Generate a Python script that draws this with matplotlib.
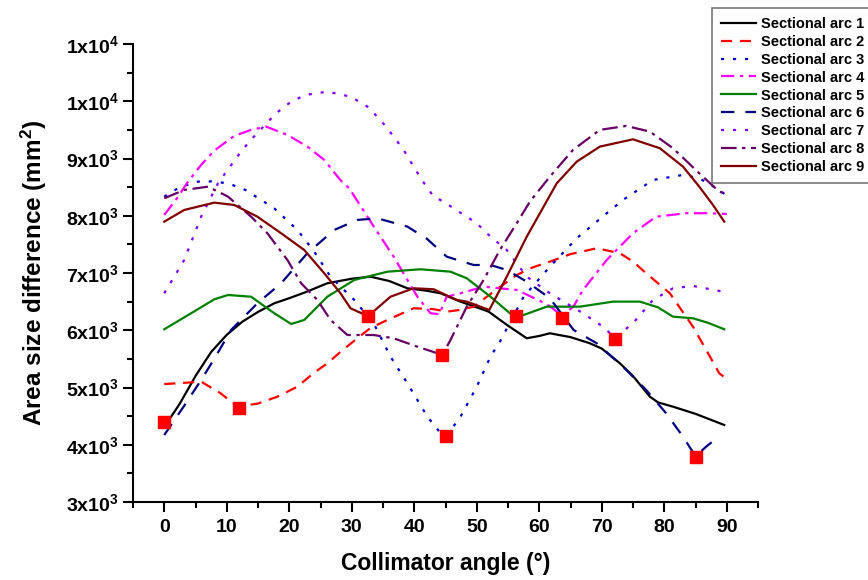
import numpy as np
import matplotlib.pyplot as plt
from matplotlib.ticker import MultipleLocator, FixedLocator, FuncFormatter

plt.rcParams['font.family'] = 'Liberation Sans'
plt.rcParams['font.weight'] = 'bold'
plt.rcParams['mathtext.fontset'] = 'custom'
plt.rcParams['mathtext.rm'] = 'Liberation Sans:bold'
plt.rcParams['mathtext.it'] = 'Liberation Sans:bold'
plt.rcParams['mathtext.bf'] = 'Liberation Sans:bold'

# Data (collimator angle in deg, area size difference in mm^2)
arc1_x = [0, 1.1, 2.5, 5, 7.5, 10, 12.5, 15, 17.6, 20, 22.5, 26.1, 30, 33, 36, 38.9, 42, 44.2, 47.4, 50, 51.9, 55, 58, 60, 61.7, 65, 68.1, 70, 72.9, 75, 77.7, 79, 81.4, 85, 89.6]
arc1_y = [4330, 4490, 4720, 5200, 5620, 5920, 6150, 6320, 6471, 6560, 6660, 6821, 6900, 6936, 6860, 6733, 6690, 6646, 6500, 6400, 6325, 6080, 5860, 5900, 5947, 5880, 5772, 5680, 5423, 5200, 4840, 4740, 4665, 4540, 4345]

arc2_x = [0, 3, 5.9, 9, 11.7, 15, 18.1, 21.3, 24, 26.1, 28.5, 30.9, 33, 35.7, 39.9, 43, 45.2, 47, 49.5, 53, 56.4, 59, 61.7, 65, 69.2, 72.9, 75, 77.1, 80.9, 84.6, 87, 88.8, 90]
arc2_y = [5060, 5080, 5102, 4900, 4665, 4720, 4840, 5014, 5260, 5423, 5650, 5860, 6040, 6180, 6384, 6370, 6325, 6350, 6411, 6700, 6966, 7100, 7198, 7330, 7432, 7345, 7200, 6996, 6646, 6062, 5600, 5248, 5150]

arc3_x = [0, 2.5, 5.4, 7.5, 10.2, 13, 17.6, 21.3, 24, 26.6, 30.4, 33.5, 36.2, 38.9, 42.1, 44.2, 45.2, 47.4, 50, 52.2, 53.7, 57.5, 61.7, 66, 70.8, 73.4, 78.2, 83, 85.6, 88.8, 90]
arc3_y = [8334, 8500, 8596, 8600, 8567, 8450, 8130, 7752, 7373, 6936, 6529, 6122, 5539, 5074, 4490, 4205, 4160, 4490, 5014, 5539, 5800, 6586, 7110, 7607, 8044, 8276, 8625, 8713, 8655, 8451, 8350]

arc4_x = [0, 2, 3.8, 6, 8, 11.2, 13.9, 16.3, 19.7, 22.9, 25.6, 28.2, 29.6, 32.5, 36.7, 40.5, 42.6, 44, 45.2, 47.4, 51.1, 56.4, 60, 61.7, 63.7, 65.5, 67, 70.8, 75, 78.7, 83.5, 87.2, 90]
arc4_y = [8014, 8300, 8596, 8900, 9138, 9394, 9500, 9557, 9412, 9208, 8975, 8620, 8480, 7984, 7285, 6586, 6297, 6280, 6586, 6646, 6761, 6704, 6520, 6420, 6250, 6420, 6704, 7228, 7694, 7984, 8044, 8044, 8030]

arc5_x = [0, 4.3, 8, 10.2, 13.9, 17.6, 20.3, 22.4, 26.1, 30.4, 35.7, 41, 45.8, 48.4, 52.2, 55.3, 56.5, 57.5, 61.2, 66.5, 71.8, 76.1, 79, 81.4, 84.6, 87, 89.6]
arc5_y = [6017, 6297, 6540, 6616, 6586, 6297, 6110, 6180, 6586, 6878, 7023, 7065, 7023, 6908, 6586, 6297, 6255, 6267, 6412, 6412, 6500, 6500, 6400, 6237, 6209, 6130, 6017]

arc6_x = [0, 3, 5.9, 8, 10.7, 14.9, 18.7, 22.9, 27.2, 30.9, 34.1, 38.9, 42, 45.2, 49.5, 52.2, 54.8, 58, 61.7, 65.5, 69.2, 73.4, 77.1, 80.3, 83, 85, 86.7, 88]
arc6_y = [4170, 4650, 5131, 5500, 6005, 6471, 6821, 7345, 7752, 7927, 7956, 7810, 7600, 7285, 7140, 7140, 7053, 6849, 6559, 6005, 5772, 5364, 4957, 4550, 4141, 3800, 3966, 4080]

arc7_x = [0, 3.2, 5.9, 8.6, 11.8, 13.6, 17.9, 20.3, 22.6, 26.1, 29.8, 32.5, 34.6, 36.5, 38.3, 39.9, 41.3, 43.1, 44.7, 46.3, 50, 52.2, 54.8, 58, 61.7, 67, 70.2, 72.1, 75, 78.2, 81.4, 84.6, 89.4]
arc7_y = [6646, 7228, 7984, 8567, 9050, 9295, 9791, 9993, 10110, 10168, 10081, 9906, 9674, 9412, 9150, 8858, 8613, 8334, 8246, 8130, 7869, 7635, 7402, 6936, 6646, 6297, 6062, 5870, 6122, 6529, 6733, 6774, 6674]

arc8_x = [0, 3.2, 7, 10.2, 13.9, 16.5, 19.7, 21.9, 24.5, 26.6, 29.3, 33.5, 36.7, 40.5, 44.5, 45.8, 48.4, 51.1, 53.7, 56.4, 58.5, 61.7, 65.4, 69.7, 73.9, 77.7, 81.4, 85.6, 88.8, 90]
arc8_y = [8305, 8451, 8508, 8334, 7984, 7694, 7228, 6821, 6529, 6180, 5917, 5917, 5860, 5713, 5570, 5830, 6412, 6878, 7402, 7869, 8246, 8683, 9150, 9500, 9569, 9470, 9179, 8742, 8421, 8380]

arc9_x = [0, 3.2, 8, 11.2, 14.9, 18.7, 22.4, 25.6, 28.2, 29.8, 31.7, 32.6, 33.5, 36.2, 39.9, 43.1, 46.8, 48.4, 52, 54.8, 58, 60.7, 62.8, 66, 69.7, 75, 79.3, 83, 85.6, 87.8, 89.6]
arc9_y = [7897, 8101, 8229, 8188, 7984, 7694, 7402, 6995, 6646, 6384, 6290, 6260, 6330, 6586, 6733, 6716, 6529, 6500, 6354, 6936, 7635, 8159, 8567, 8945, 9208, 9335, 9179, 8858, 8509, 8188, 7897]

# red squares (minimum of each arc)
min_x = [0, 12, 32.6, 44.5, 45.1, 56.3, 63.7, 72.1, 85]
min_y = [4400, 4650, 6255, 5570, 4150, 6255, 6220, 5850, 3790]

labels = ['Sectional arc %d' % i for i in range(1, 10)]
colors = ['#000000', '#FF0000', '#0000CC', '#FF00FF', '#008000',
          '#000080', '#7F00FF', '#660066', '#800000']
styles = ['-', (0, (5, 3.5)), (0, (1.4, 4)), (0, (6, 2.5, 1.5, 2.5)), '-',
          (0, (6, 5)), (0, (1.4, 4)), (0, (7, 2.5, 1.5, 2.5)), '-']

series = [(arc1_x, arc1_y), (arc2_x, arc2_y), (arc3_x, arc3_y),
          (arc4_x, arc4_y), (arc5_x, arc5_y), (arc6_x, arc6_y),
          (arc7_x, arc7_y), (arc8_x, arc8_y), (arc9_x, arc9_y)]

fig = plt.figure(figsize=(8.68, 5.8), dpi=100)
ax = fig.add_axes([133/868, 1-502/580, 625/868, 458/580])

for (xs, ys), lab, c, ls in zip(series, labels, colors, styles):
    ax.plot(xs, ys, color=c, linestyle=ls, lw=1.6, label=lab)

ax.plot(min_x, min_y, 's', color='#FF0000', markersize=8.5, linestyle='none', zorder=5)

ax.set_xlim(-5, 95)
ax.set_ylim(3000, 11000)
ax.xaxis.set_major_locator(FixedLocator(np.arange(0, 91, 10)))
ax.xaxis.set_minor_locator(FixedLocator(np.arange(-5, 96, 10)))
ax.yaxis.set_major_locator(MultipleLocator(1000))
ax.yaxis.set_minor_locator(MultipleLocator(500))

def ylab(v, pos):
    v = int(round(v))
    if v >= 10000:
        return r'1x10$^{4}$'
    return r'%dx10$^{3}$' % (v // 1000)

ax.yaxis.set_major_formatter(FuncFormatter(ylab))

for s in ['top', 'right']:
    ax.spines[s].set_visible(False)
for s in ['left', 'bottom']:
    ax.spines[s].set_linewidth(1.5)

ax.tick_params(which='major', direction='out', length=7, width=1.5, labelsize=14, pad=3)
ax.tick_params(which='minor', direction='out', length=4, width=1.5)
ax.tick_params(axis='x', which='major', pad=5)

ax.set_xlabel('Collimator angle (°)', fontsize=16.5, fontweight='bold', labelpad=12)
ax.set_ylabel(r'Area size difference (mm$^{2}$)', fontsize=17.5, fontweight='bold', labelpad=12)

leg = ax.legend(loc='upper left', bbox_to_anchor=(712/868, 1-8/580),
                bbox_transform=fig.transFigure, fontsize=10.5, frameon=True,
                fancybox=False, handlelength=2.4, handletextpad=0.35,
                labelspacing=0.27, borderpad=0.6, borderaxespad=0)
leg.get_frame().set_edgecolor('#555555')
leg.get_frame().set_linewidth(1.2)
for t in leg.get_texts():
    t.set_fontweight('bold')

plt.savefig('out.png', dpi=100)
